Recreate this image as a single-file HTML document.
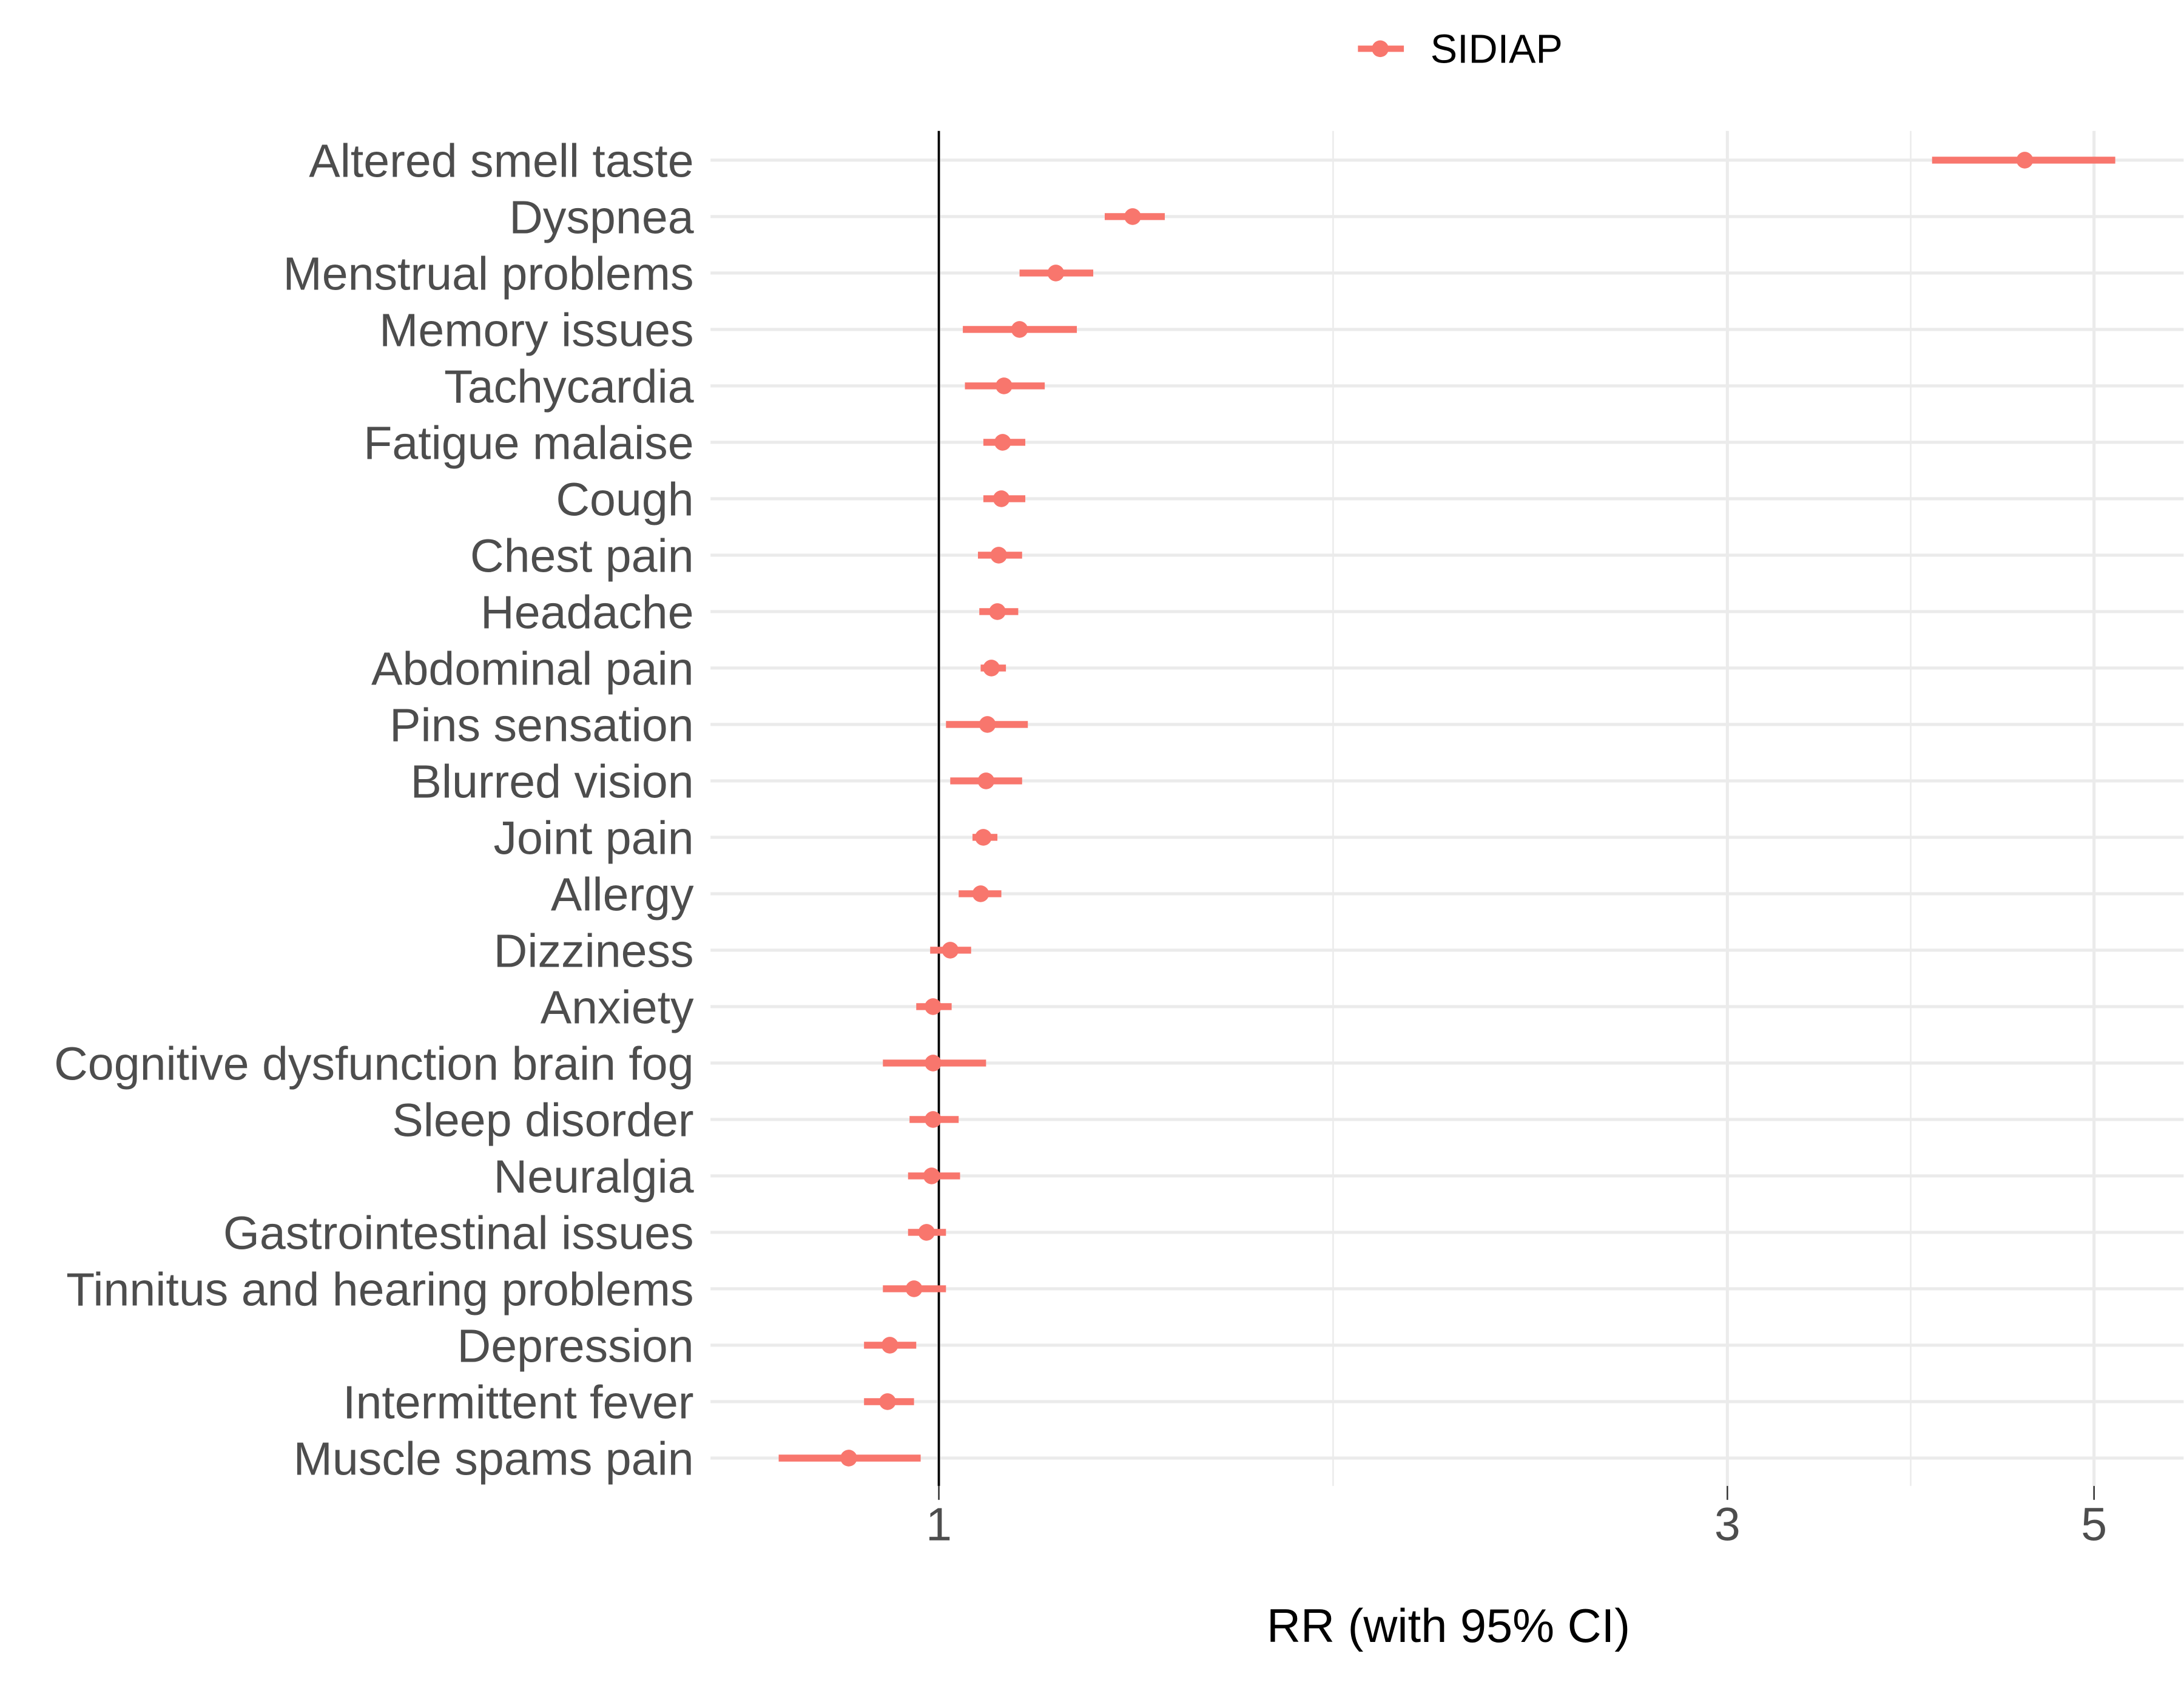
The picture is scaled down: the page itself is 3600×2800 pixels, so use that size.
<!DOCTYPE html>
<html><head><meta charset="utf-8"><style>html,body{margin:0;padding:0;background:#fff}svg{display:block}</style></head>
<body>
<svg id="chart" width="3600" height="2800" viewBox="0 0 1568 1220" xmlns="http://www.w3.org/2000/svg" font-family="Liberation Sans, sans-serif">
<g id="grid"></g>
<g id="ylabels"></g>
<g id="marks"></g>
<g id="xaxis"></g>
<text x="1040" y="1179" font-size="33.8" text-anchor="middle" fill="#000">RR (with 95% CI)</text>
<g>
<line x1="975" x2="1008" y1="35" y2="35" stroke="#F8766D" stroke-width="4.5"/>
<circle cx="991" cy="35" r="6" fill="#F8766D"/>
<text x="1027" y="45" font-size="29" fill="#000">SIDIAP</text>
</g>
</svg>
<script>
const categories = ["Altered smell taste","Dyspnea","Menstrual problems","Memory issues","Tachycardia","Fatigue malaise","Cough","Chest pain","Headache","Abdominal pain","Pins sensation","Blurred vision","Joint pain","Allergy","Dizziness","Anxiety","Cognitive dysfunction brain fog","Sleep disorder","Neuralgia","Gastrointestinal issues","Tinnitus and hearing problems","Depression","Intermittent fever","Muscle spams pain"];
const rr = [4.54,1.31,1.177,1.119,1.095,1.093,1.091,1.087,1.085,1.076,1.070,1.068,1.064,1.060,1.016,0.992,0.992,0.992,0.990,0.983,0.966,0.934,0.931,0.882];
const lower = [3.99,1.26,1.119,1.034,1.037,1.064,1.064,1.056,1.058,1.060,1.010,1.016,1.048,1.028,0.988,0.969,0.925,0.960,0.958,0.958,0.925,0.901,0.901,0.800];
const upper = [5.15,1.37,1.240,1.212,1.159,1.128,1.128,1.123,1.117,1.098,1.132,1.123,1.085,1.091,1.046,1.018,1.068,1.028,1.030,1.010,1.010,0.969,0.966,0.975];
const xTicks = [1,3,5];
const xTickLabels = ["1","3","5"];
const xMinor = [Math.sqrt(3),Math.sqrt(15)];

const NS="http://www.w3.org/2000/svg";
const PL=510, PR=1568, PT=94, PB=1067;
const x = v => 674 + 515.5*Math.log(v);
const y = i => 115 + i*(1047-115)/(categories.length-1);
function mk(tag, parent, attrs){const e=document.createElementNS(NS,tag);for(const k in attrs)e.setAttribute(k,attrs[k]);parent.appendChild(e);return e;}
const grid=document.getElementById('grid'), yl=document.getElementById('ylabels'), marks=document.getElementById('marks'), xa=document.getElementById('xaxis');
xMinor.forEach(v=>{const l=mk('line',grid,{x1:x(v),x2:x(v),y1:PT,y2:PB,stroke:'#ebebeb','stroke-width':1.1});

});
xTicks.forEach(v=>{const l=mk('line',grid,{x1:x(v),x2:x(v),y1:PT,y2:PB,stroke:'#ebebeb','stroke-width':2.2});

});
categories.forEach((c,i)=>{const l=mk('line',grid,{x1:PL,x2:PR,y1:y(i),y2:y(i),stroke:'#ebebeb','stroke-width':2.2});


const t=mk('text',yl,{x:498,y:y(i)+12,'font-size':33.6,'text-anchor':'end',fill:'#4d4d4d'});t.textContent=c;

});
const ref=mk('line',marks,{x1:x(1),x2:x(1),y1:PT,y2:PB,stroke:'#000','stroke-width':1.6});


categories.forEach((c,i)=>{
const l=mk('line',marks,{x1:x(lower[i]),x2:x(upper[i]),y1:y(i),y2:y(i),stroke:'#F8766D','stroke-width':5});


const p=mk('circle',marks,{cx:x(rr[i]),cy:y(i),r:6,fill:'#F8766D'});

});
xTicks.forEach((v,i)=>{const tk=mk('line',xa,{x1:x(v),x2:x(v),y1:PB,y2:PB+10,stroke:'#333','stroke-width':1.1});


const t=mk('text',xa,{x:x(v),y:1106,'font-size':33.6,'text-anchor':'middle',fill:'#4d4d4d'});t.textContent=xTickLabels[i];

});
</script>
</body></html>
